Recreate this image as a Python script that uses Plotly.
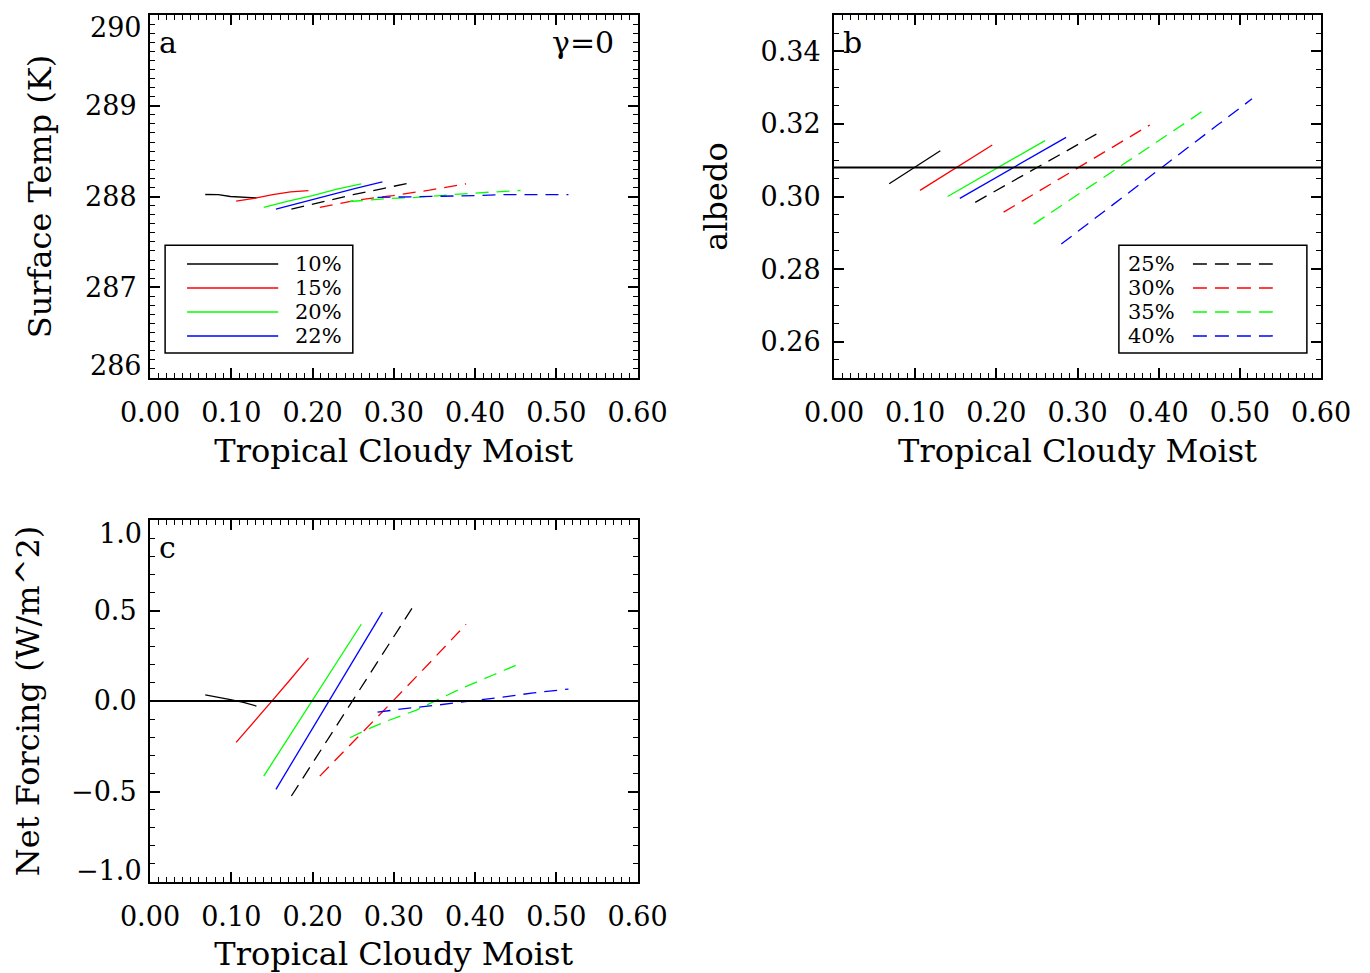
import plotly.graph_objects as go

# ---------------- data ----------------
series_names = ["10%", "15%", "20%", "22%", "25%", "30%", "35%", "40%"]
series_colors = ["#000000", "#ff0000", "#00ff00", "#0000ff",
                 "#000000", "#ff0000", "#00ff00", "#0000ff"]
series_dash = ["solid", "solid", "solid", "solid", "dash", "dash", "dash", "dash"]

x10 = [0.068, 0.084, 0.099, 0.115, 0.131]
sfc10 = [288.022, 288.020, 288.000, 287.990, 287.985]
alb10 = [0.3035, 0.3058, 0.3080, 0.3103, 0.3126]
net10 = [0.034, 0.022, 0.008, -0.008, -0.028]

x15 = [0.106, 0.128, 0.151, 0.173, 0.195]
sfc15 = [287.950, 287.980, 288.020, 288.050, 288.065]
alb15 = [0.3017, 0.3048, 0.3080, 0.3111, 0.3142]
net15 = [-0.229, -0.112, 0.005, 0.120, 0.238]

x20 = [0.140, 0.170, 0.200, 0.230, 0.260]
sfc20 = [287.880, 287.950, 288.010, 288.080, 288.140]
alb20 = [0.3000, 0.3039, 0.3077, 0.3116, 0.3154]
net20 = [-0.415, -0.205, 0.005, 0.215, 0.424]

x22 = [0.155, 0.188, 0.220, 0.253, 0.286]
sfc22 = [287.860, 287.940, 288.010, 288.090, 288.160]
alb22 = [0.2995, 0.3037, 0.3079, 0.3121, 0.3163]
net22 = [-0.488, -0.243, 0.000, 0.246, 0.491]

x25 = [0.174, 0.212, 0.250, 0.288, 0.325]
sfc25 = [287.860, 287.940, 288.020, 288.090, 288.160]
alb25 = [0.2984, 0.3032, 0.3079, 0.3127, 0.3174]
net25 = [-0.525, -0.260, 0.000, 0.265, 0.530]

x30 = [0.209, 0.254, 0.299, 0.344, 0.389]
sfc30 = [287.880, 287.960, 288.010, 288.070, 288.140]
alb30 = [0.2957, 0.3017, 0.3077, 0.3137, 0.3197]
net30 = [-0.415, -0.210, 0.000, 0.210, 0.424]

x35 = [0.246, 0.271, 0.295, 0.328, 0.353, 0.386, 0.423, 0.456]
sfc35 = [287.945, 287.965, 287.978, 287.990, 288.008, 288.030, 288.050, 288.066]
alb35 = [0.2924, 0.2961, 0.2997, 0.3046, 0.3084, 0.3133, 0.3188, 0.3238]
net35 = [-0.203, -0.150, -0.105, -0.050, 0.005, 0.075, 0.145, 0.208]

x40 = [0.280, 0.308, 0.349, 0.377, 0.402, 0.431, 0.472, 0.515]
sfc40 = [287.990, 287.995, 288.000, 288.000, 288.010, 288.020, 288.020, 288.020]
alb40 = [0.2869, 0.2917, 0.2986, 0.3034, 0.3077, 0.3126, 0.3196, 0.3269]
net40 = [-0.062, -0.045, -0.025, -0.010, 0.003, 0.020, 0.045, 0.066]

albedo_ref = 0.308
forcing_ref = 0.0

x_ticks = [0.0, 0.1, 0.2, 0.3, 0.4, 0.5, 0.6]
sfc_ticks = [286, 287, 288, 289, 290]
alb_ticks = [0.26, 0.28, 0.30, 0.32, 0.34]
net_ticks = [-1.0, -0.5, 0.0, 0.5, 1.0]

xs = [x10, x15, x20, x22, x25, x30, x35, x40]
sfcs = [sfc10, sfc15, sfc20, sfc22, sfc25, sfc30, sfc35, sfc40]
albs = [alb10, alb15, alb20, alb22, alb25, alb30, alb35, alb40]
nets = [net10, net15, net20, net22, net25, net30, net35, net40]

# ---------------- figure ----------------
FONT = "DejaVu Serif"
TICK_SIZE = 27
W, H = 1370, 973

fig = go.Figure()

for i in range(8):
    line = dict(color=series_colors[i], width=1.3, dash="solid" if series_dash[i] == "solid" else "13px,8px")
    fig.add_trace(go.Scatter(x=xs[i], y=sfcs[i], mode="lines", line=line, xaxis="x", yaxis="y", showlegend=False, name=series_names[i]))
    fig.add_trace(go.Scatter(x=xs[i], y=albs[i], mode="lines", line=line, xaxis="x2", yaxis="y2", showlegend=False, name=series_names[i]))
    fig.add_trace(go.Scatter(x=xs[i], y=nets[i], mode="lines", line=line, xaxis="x3", yaxis="y3", showlegend=False, name=series_names[i]))


def px_x(a, b):
    return [a / W, b / W]


def px_y(top, bottom):
    return [1 - bottom / H, 1 - top / H]


tick_font = dict(family=FONT, size=TICK_SIZE, color="black")
title_font = dict(family=FONT, size=32, color="black")


def base_axis():
    return dict(
        showline=True, linecolor="black", linewidth=2, mirror="ticks",
        ticks="inside", ticklen=10, tickwidth=1.5, tickcolor="black",
        showgrid=False, zeroline=False, automargin=False,
        ticklabeloverflow="allow", tickfont=tick_font,
    )


def xaxis(dom, anchor):
    d = base_axis()
    d.update(domain=dom, anchor=anchor, range=[0, 0.6], tickvals=x_ticks,
             ticktext=["%.2f" % v for v in x_ticks], ticklabelstandoff=10,
             minor=dict(ticks="inside", ticklen=5, tickwidth=1, tickcolor="black", dtick=0.01, showgrid=False),
             title=dict(text="Tropical Cloudy Moist", font=title_font, standoff=12))
    return d


def yaxis(dom, anchor, rng, ticktext, ticks, minor_dtick, title, standoff):
    d = base_axis()
    d.update(domain=dom, anchor=anchor, range=rng, tickvals=ticks,
             ticktext=ticktext, ticklabelstandoff=6,
             minor=dict(ticks="inside", ticklen=5, tickwidth=1, tickcolor="black", dtick=minor_dtick, showgrid=False),
             title=dict(text=title, font=title_font, standoff=standoff))
    return d


sfc_text = ["%d" % v for v in sfc_ticks]
alb_text = ["%.2f" % v for v in alb_ticks]
net_text = [("%.1f" % v).replace("-", "\u2212") for v in net_ticks]

dom_a_x = px_x(150, 637.5)
dom_b_x = px_x(834, 1321)
dom_top_y = px_y(15, 378)
dom_c_y = px_y(520, 882)

# end labels are pulled inside the frame (as in the original), drawn below as annotations
sfc_axis_text = [""] + sfc_text[1:-1] + [""]
net_axis_text = [""] + net_text[1:-1] + [""]

fig.update_layout(
    width=W, height=H,
    margin=dict(l=0, r=0, t=0, b=0, autoexpand=False),
    paper_bgcolor="white", plot_bgcolor="white",
    showlegend=False,
    xaxis=xaxis(dom_a_x, "y"),
    yaxis=yaxis(dom_top_y, "x", [286, 290], sfc_axis_text, sfc_ticks, 0.1, "Surface Temp (K)", 24),
    xaxis2=xaxis(dom_b_x, "y2"),
    yaxis2=yaxis(dom_top_y, "x2", [0.25, 0.35], alb_text, alb_ticks, 0.005, "albedo", 23),
    xaxis3=xaxis(dom_a_x, "y3"),
    yaxis3=yaxis(dom_c_y, "x3", [-1, 1], net_axis_text, net_ticks, 0.1, "Net Forcing (W/m^2)", 22),
)

annotations = []
for ax, vals, texts in (("", sfc_ticks, sfc_text), ("3", net_ticks, net_text)):
    for j, shift in ((0, 12), (-1, -13)):
        annotations.append(dict(text=texts[j], xref="x%s domain" % ax, yref="y%s" % ax, x=0, y=vals[j],
                                xanchor="right", yanchor="middle", xshift=-6, yshift=shift,
                                showarrow=False, font=tick_font))

shapes = [
    dict(type="line", xref="x2 domain", yref="y2", x0=0, x1=1, y0=albedo_ref, y1=albedo_ref,
         line=dict(color="black", width=2), layer="above"),
    dict(type="line", xref="x3 domain", yref="y3", x0=0, x1=1, y0=forcing_ref, y1=forcing_ref,
         line=dict(color="black", width=2), layer="above"),
]

label_font = dict(family=FONT, size=30, color="black")
annotations.append(dict(text="a", xref="x domain", yref="y domain", x=0.015, y=0.925, xanchor="left", yanchor="middle", showarrow=False, font=label_font))
annotations.append(dict(text="\u03b3=0", xref="x domain", yref="y domain", x=0.955, y=0.925, xanchor="right", yanchor="middle", showarrow=False, font=label_font))
annotations.append(dict(text="b", xref="x2 domain", yref="y2 domain", x=0.015, y=0.925, xanchor="left", yanchor="middle", showarrow=False, font=label_font))
annotations.append(dict(text="c", xref="x3 domain", yref="y3 domain", x=0.015, y=0.925, xanchor="left", yanchor="middle", showarrow=False, font=label_font))

# legends (drawn as boxes with sample lines and labels)
leg_font = dict(family=FONT, size=21, color="black")
row_y = [0.314, 0.248, 0.182, 0.116]
# panel a legend: solid series
shapes.append(dict(type="rect", xref="x domain", yref="y domain", x0=0.031, x1=0.416, y0=0.069, y1=0.366,
                   line=dict(color="black", width=1.5), fillcolor="rgba(0,0,0,0)"))
for k in range(4):
    shapes.append(dict(type="line", xref="x domain", yref="y domain", x0=0.076, x1=0.263, y0=row_y[k], y1=row_y[k],
                       line=dict(color=series_colors[k], width=1.5)))
    annotations.append(dict(text=series_names[k], xref="x domain", yref="y domain", x=0.397, y=row_y[k],
                            xanchor="right", yanchor="middle", showarrow=False, font=leg_font))
# panel b legend: dashed series
shapes.append(dict(type="rect", xref="x2 domain", yref="y2 domain", x0=0.585, x1=0.971, y0=0.069, y1=0.366,
                   line=dict(color="black", width=1.5), fillcolor="rgba(0,0,0,0)"))
for k in range(4, 8):
    r = row_y[k - 4]
    shapes.append(dict(type="line", xref="x2 domain", yref="y2 domain", x0=0.737, x1=0.901, y0=r, y1=r,
                       line=dict(color=series_colors[k], width=1.5, dash="14px,8px")))
    annotations.append(dict(text=series_names[k], xref="x2 domain", yref="y2 domain", x=0.600, y=r,
                            xanchor="left", yanchor="middle", showarrow=False, font=leg_font))

fig.update_layout(shapes=shapes, annotations=annotations)

fig.write_html("out.html", config={"displayModeBar": False},
               post_script="document.body.style.margin='0';document.body.style.overflow='hidden';")
